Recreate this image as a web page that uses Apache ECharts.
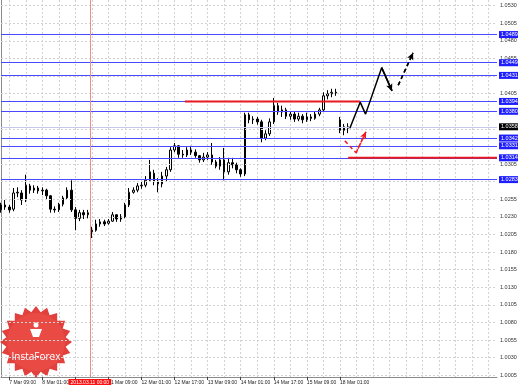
<!DOCTYPE html>
<html><head><meta charset="utf-8">
<script src="https://cdn.jsdelivr.net/npm/echarts@6/dist/echarts.min.js"></script>
<style>html,body{margin:0;padding:0;background:#fff}#c{width:518px;height:389px}</style>
</head><body><div id="c"></div>
<script>
// H2-style bars: [open, close, low, high]
const candles = [
[1.0240,1.0247,1.0236,1.0250],[1.0247,1.0244,1.0240,1.0254],[1.0244,1.0240,1.0236,1.0247],
[1.0241,1.0264,1.0238,1.0271],[1.0264,1.0265,1.0258,1.0272],[1.0264,1.0254,1.0247,1.0268],
[1.0254,1.0275,1.0251,1.0290],[1.0274,1.0268,1.0263,1.0277],[1.0268,1.0271,1.0264,1.0275],
[1.0271,1.0267,1.0263,1.0274],[1.0267,1.0268,1.0261,1.0272],[1.0268,1.0260,1.0255,1.0270],
[1.0260,1.0241,1.0236,1.0261],[1.0241,1.0240,1.0236,1.0245],[1.0240,1.0248,1.0237,1.0250],
[1.0248,1.0257,1.0245,1.0260],[1.0257,1.0268,1.0254,1.0272],[1.0268,1.0240,1.0237,1.0282],
[1.0240,1.0228,1.0211,1.0244],[1.0228,1.0236,1.0224,1.0240],[1.0236,1.0233,1.0227,1.0240],
[1.0233,1.0236,1.0228,1.0240],[1.0211,1.0209,1.0200,1.0216],[1.0211,1.0220,1.0209,1.0226],
[1.0220,1.0223,1.0216,1.0227],[1.0223,1.0220,1.0217,1.0226],[1.0221,1.0224,1.0219,1.0227],
[1.0224,1.0233,1.0223,1.0237],[1.0233,1.0227,1.0223,1.0234],[1.0227,1.0230,1.0223,1.0234],
[1.0230,1.0247,1.0228,1.0250],[1.0247,1.0265,1.0244,1.0271],[1.0265,1.0268,1.0263,1.0272],
[1.0268,1.0274,1.0265,1.0278],[1.0274,1.0275,1.0270,1.0281],[1.0275,1.0282,1.0272,1.0288],
[1.0282,1.0294,1.0280,1.0311],[1.0292,1.0280,1.0275,1.0297],[1.0280,1.0277,1.0265,1.0285],
[1.0277,1.0288,1.0272,1.0294],[1.0288,1.0297,1.0280,1.0301],[1.0297,1.0325,1.0294,1.0329],
[1.0325,1.0331,1.0322,1.0335],[1.0331,1.0319,1.0314,1.0332],[1.0319,1.0318,1.0314,1.0325],
[1.0318,1.0325,1.0315,1.0329],[1.0325,1.0322,1.0318,1.0331],[1.0322,1.0317,1.0314,1.0326],
[1.0317,1.0311,1.0307,1.0318],[1.0311,1.0315,1.0308,1.0321],[1.0315,1.0318,1.0311,1.0322],
[1.0318,1.0308,1.0304,1.0335],[1.0308,1.0302,1.0299,1.0311],[1.0302,1.0311,1.0297,1.0315],
[1.0311,1.0294,1.0282,1.0328],[1.0294,1.0307,1.0290,1.0314],[1.0307,1.0304,1.0299,1.0314],
[1.0304,1.0297,1.0292,1.0307],[1.0297,1.0291,1.0287,1.0299],[1.0291,1.0375,1.0288,1.0378],
[1.0375,1.0368,1.0363,1.0378],[1.0368,1.0369,1.0362,1.0373],[1.0369,1.0365,1.0361,1.0372],
[1.0365,1.0342,1.0336,1.0368],[1.0342,1.0348,1.0339,1.0353],[1.0348,1.0365,1.0345,1.0370],
[1.0365,1.0388,1.0362,1.0399],[1.0388,1.0379,1.0375,1.0392],[1.0379,1.0382,1.0372,1.0388],
[1.0382,1.0373,1.0369,1.0385],[1.0373,1.0376,1.0368,1.0380],[1.0376,1.0369,1.0365,1.0379],
[1.0369,1.0373,1.0366,1.0378],[1.0373,1.0368,1.0363,1.0376],[1.0368,1.0372,1.0365,1.0378],
[1.0372,1.0370,1.0366,1.0376],[1.0370,1.0376,1.0368,1.0380],[1.0376,1.0382,1.0373,1.0385],
[1.0382,1.0402,1.0379,1.0407],[1.0402,1.0405,1.0397,1.0410],[1.0405,1.0407,1.0400,1.0412],
[1.0407,1.0406,1.0402,1.0412],[1.0368,1.0353,1.0349,1.0372],[1.0353,1.0358,1.0346,1.0362],
[1.0356,1.0358,1.0349,1.0363]
];
const tickLabels = ['7 Mar 09:00','8 Mar 01:00','8 Mar 17:00','11 Mar 09:00','12 Mar 01:00','12 Mar 17:00','13 Mar 09:00','14 Mar 01:00','14 Mar 17:00','15 Mar 09:00','18 Mar 01:00'];
const yTicks = [1.0005,1.0030,1.0055,1.0080,1.0105,1.0130,1.0155,1.0180,1.0205,1.0230,1.0255,1.0280,1.0305,1.0330,1.0355,1.0380,1.0405,1.0430,1.0455,1.0480,1.0505,1.0530];
const levels = [1.0489,1.0449,1.0431,1.0394,1.0380,1.0342,1.0331,1.0314,1.0283];
const lastPrice = 1.0358;
const markerTime = 21.5, markerLabel = '2013.03.11 00:00';
const resistance = [[44.5,1.0394],[86.9,1.0394]];
const support = [[84.0,1.0314],[120,1.0314]];
const forecastMain = [[84.4,1.0356],[86.9,1.0393],[88.2,1.0376],[92.1,1.0442],[94.6,1.0409]];
const forecastNext = [[96.1,1.0417],[99.7,1.0463]];
const forecastAlt = [[83.2,1.0338],[85.9,1.0321],[88.3,1.0351]];

const N = 121;
const cats = Array.from({length:N},(_,i)=>String(i));
const FONT = 'Liberation Sans';

function arrowSeg(pts,color,type){
  const a = pts[pts.length-2], b = pts[pts.length-1];
  return {symbol:['none','arrow'],symbolSize:[5,7],silent:true,precision:4,
    lineStyle:{color,width:1.5,type},label:{show:false},
    data:[[{coord:a},{coord:b}]]};
}

// logo polygon
const starPts=[];const cx=36,cy=342;
for(let k=0;k<40;k++){const r=k%2?30:36;const a=Math.PI*2*k/40;starPts.push([cx+r*Math.cos(a),cy+r*Math.sin(a)]);}

const chart = echarts.init(document.getElementById('c'),null,{renderer:'canvas'});
chart.setOption({
  animation:false,
  backgroundColor:'#fff',
  grid:{left:1,right:21,top:0,bottom:12,containLabel:false},
  xAxis:[{
    type:'category',data:cats,boundaryGap:false,
    axisLine:{lineStyle:{color:'#8a8a8a'}},
    axisTick:{show:true,length:3,interval:(i)=>i>=2&&(i-2)%8===0&&!!tickLabels[(i-2)/8],lineStyle:{color:'#444'}},
    axisLabel:{interval:(i)=>i>=2&&(i-2)%8===0,margin:3,align:'left',fontSize:5,fontFamily:FONT,color:'#222',
      formatter:(v,i)=>{const k=(i-2)/8;return (i>=2&&Number.isInteger(k)&&tickLabels[k])?tickLabels[k]:'';}},
    splitLine:{show:true,interval:(i)=>i%4===2,lineStyle:{color:'#d2d2d2',type:[2,2],width:1}}
  },{type:'value',min:0,max:120,show:false}],
  yAxis:{type:'value',position:'right',min:1.00026,max:1.05381,scale:true,
    axisLine:{show:true,lineStyle:{color:'#8a8a8a'}},axisTick:{show:false},axisLabel:{show:false},splitLine:{show:false}},
  graphic:[
    {type:'polygon',shape:{points:starPts},style:{fill:'#e2403c'},z:1},
    {type:'circle',shape:{cx:cx,cy:cy,r:29},style:{fill:'#e94a44'},z:1},
    {type:'circle',shape:{cx:36,cy:325,r:2.5},style:{fill:'#fff'},z:2},
    {type:'polygon',shape:{points:[[30,329],[42,329],[39,337],[33,337]]},style:{fill:'#fff'},z:2},
    {type:'text',x:36,y:357,style:{text:'InstaForex',fill:'#fff',font:'10px "Open Sans"',align:'center',verticalAlign:'middle'},z:2}
  ],
  series:[
    {type:'line',xAxisIndex:1,data:[],silent:true,z:1,
      markLine:{symbol:'none',silent:true,animation:false,precision:4,
        lineStyle:{color:'#d2d2d2',type:[2,2],width:1},
        label:{position:'end',distance:3,fontSize:5.5,fontFamily:FONT,color:'#333',formatter:(p)=>Number(p.value).toFixed(4)},
        data:yTicks.map(v=>({yAxis:v}))}},
    {type:'candlestick',data:candles,barWidth:2,z:3,
      itemStyle:{color:'#ffffff',color0:'#000000',borderColor:'#000000',borderColor0:'#000000',borderWidth:1}},
    {type:'line',xAxisIndex:1,data:[],silent:true,z:8,
      markLine:{symbol:'none',silent:true,animation:false,precision:4,
        lineStyle:{color:'#4848ff',type:'solid',width:1},
        label:{position:'end',distance:2,fontSize:5.5,fontFamily:FONT,color:'#fff',backgroundColor:'#1e1eff',padding:[1,2,0,2],formatter:(p)=>Number(p.value).toFixed(4)},
        data:levels.map(v=>({yAxis:v})).concat([{yAxis:lastPrice,lineStyle:{color:'#c8c8ee'},label:{backgroundColor:'#000'}}])}},
    {type:'line',xAxisIndex:1,data:[],silent:true,z:5,
      markLine:{symbol:'none',silent:true,animation:false,precision:4,
        lineStyle:{color:'#f28b8b',type:'solid',width:1},
        label:{position:'start',distance:2,fontSize:5,fontFamily:FONT,color:'#fff',backgroundColor:'#ff1010',padding:[1,2,0,2],formatter:()=>markerLabel},
        data:[{xAxis:markerTime}]}},
    {type:'line',xAxisIndex:1,data:resistance,symbol:'none',silent:true,z:9,lineStyle:{color:'#e8191f',width:2}},
    {type:'line',xAxisIndex:1,data:support,symbol:'none',silent:true,z:9,lineStyle:{color:'#e8191f',width:2}},
    {type:'line',xAxisIndex:1,data:forecastMain,symbol:'none',silent:true,z:10,lineStyle:{color:'#000',width:1.5},
      markLine:arrowSeg(forecastMain,'#000','solid')},
    {type:'line',xAxisIndex:1,data:forecastNext,symbol:'none',silent:true,z:10,lineStyle:{color:'#000',width:1.5,type:[4,3]},
      markLine:arrowSeg(forecastNext,'#000',[4,3])},
    {type:'line',xAxisIndex:1,data:forecastAlt,symbol:'none',silent:true,z:10,lineStyle:{color:'#ee1c24',width:1.5,type:[4,3]},
      markLine:arrowSeg(forecastAlt,'#ee1c24',[4,3])}
  ]
});
</script></body></html>
